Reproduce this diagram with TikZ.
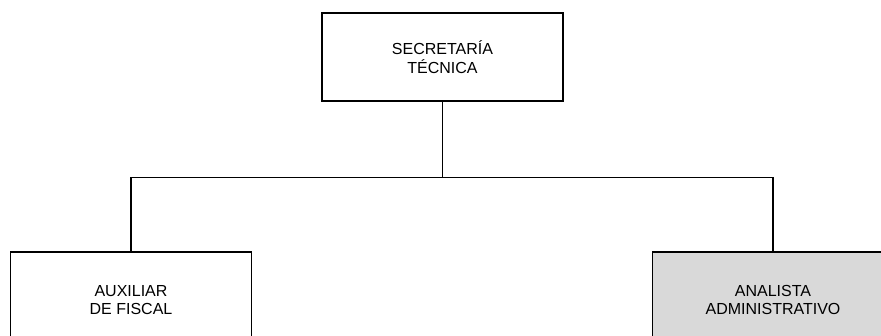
\documentclass[tikz,border=0pt]{standalone}
\usepackage{fontspec}
\setmainfont{Liberation Sans}
\usetikzlibrary{positioning}
\definecolor{boxgray}{HTML}{D9D9D9}

\begin{document}
\begin{tikzpicture}[x=1pt, y=-1pt,
    orgbox/.style={draw, line width=1.2pt, minimum width=241pt, minimum height=88pt,
      inner sep=0pt, align=center, font=\fontsize{16}{18.5}\selectfont},
    link/.style={line width=1.2pt}]
    \useasboundingbox (0,0) rectangle (881,335);
    % top unit
    \node[orgbox] (sec) at (442.5,57) {SECRETARÍA\\TÉCNICA};
    % subordinate units
    \node[orgbox, minimum height=96pt] (aux) at (131,300) {AUXILIAR\\DE FISCAL};
    \node[orgbox, minimum height=96pt, fill=boxgray] (ana) at (773,300) {ANALISTA\\ADMINISTRATIVO};
    % connectors
    \draw[link] (sec.south) -- ++(0,76) coordinate (bus);
    \draw[link] (aux.north) |- (bus) -| (ana.north);
  \end{tikzpicture}
\end{document}
